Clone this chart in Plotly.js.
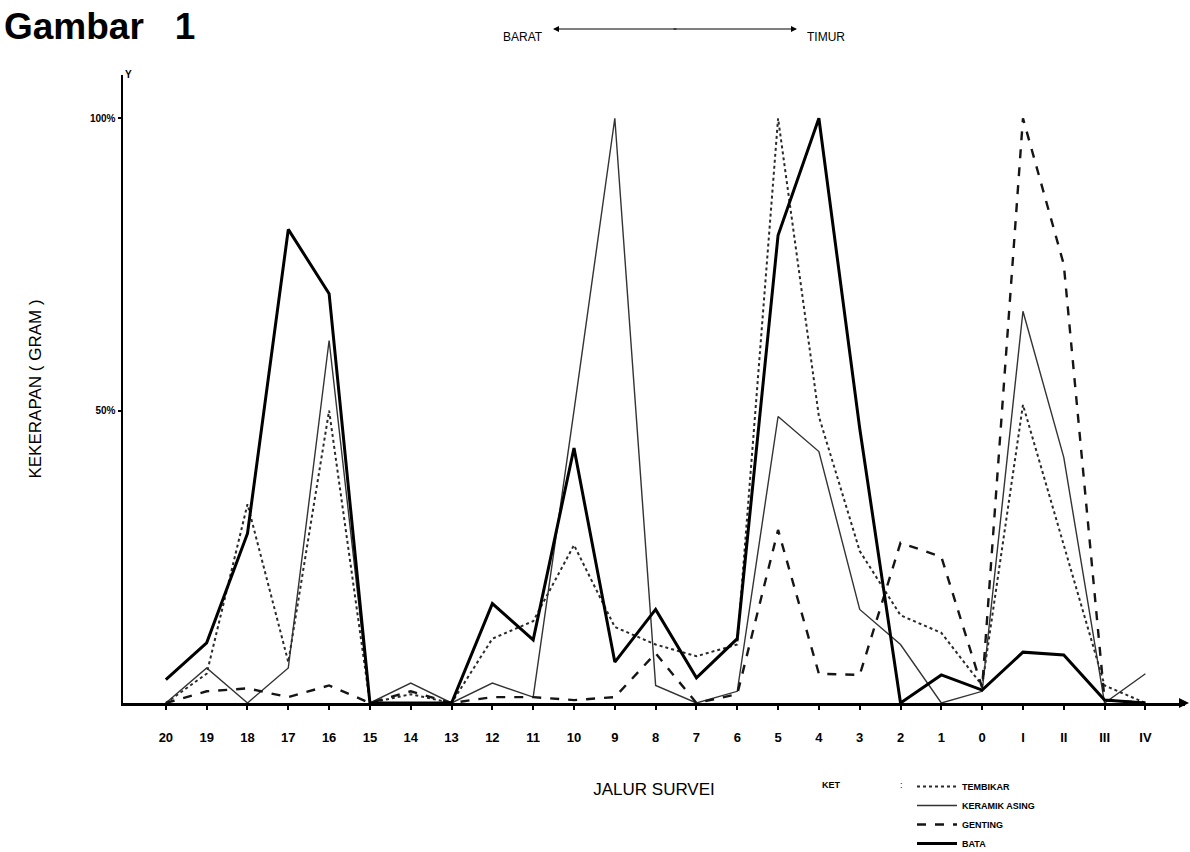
<!DOCTYPE html>
<html>
<head>
<meta charset="utf-8">
<script src="https://cdn.plot.ly/plotly-3.0.1.min.js"></script>
<style>
  html, body { margin: 0; padding: 0; background: #ffffff; }
  #chart { width: 1190px; height: 852px; }
</style>
</head>
<body>
<div id="chart"></div>
<script>
// ---- data (percent) ----
const categories = ['20','19','18','17','16','15','14','13','12','11','10','9','8','7','6','5','4','3','2','1','0','I','II','III','IV'];
const tembikar = [0, 5, 34, 7, 50, 0, 1.5, 0, 11, 14, 27, 13, 10, 8, 10, 100, 49, 26, 15, 12, 3, 51, 27, 3, 0];
const keramikAsing = [0, 6, 0, 6, 62, 0, 3.4, 0, 3.4, 1, 50, 100, 3, 0, 2, 49, 43, 16, 10, 0, 2, 67, 42, 0, 5];
const genting = [0, 2, 2.5, 1, 3, 0, 2, 0, 1, 1, 0.5, 1, 8.5, 0, 1.5, 29.6, 5, 4.8, 27.4, 25, 2.6, 100, 75, 0.5, 0];
const bata = [4, 10.3, 29, 81, 70, 0, 0, 0, 17, 10.8, 43.6, 7, 16, 4.3, 11, 80, 100, 47, 0, 4.8, 2.2, 8.7, 8.2, 0.5, 0];
const seriesNames = ['TEMBIKAR', 'KERAMIK ASING', 'GENTING', 'BATA'];
const yTickVals = [50, 100];
const yTickText = ['50%', '100%'];

// ---- layout geometry (pixels) ----
const L = 123, R = 1185, T = 75, B = 703;
const W = 1190, H = 852;
const fx = p => (p - L) / (R - L);
const fy = p => (B - p) / (B - T);
const FONT = 'Liberation Sans, Arial, sans-serif';

const traces = [
  { y: tembikar, name: seriesNames[0], line: { color: '#2a2a2a', width: 2, dash: 'dot' } },
  { y: keramikAsing, name: seriesNames[1], line: { color: '#333333', width: 1.4, dash: 'solid' } },
  { y: genting, name: seriesNames[2], line: { color: '#151515', width: 2.4, dash: 'dash' } },
  { y: bata, name: seriesNames[3], line: { color: '#000000', width: 3, dash: 'solid' } }
].map(t => Object.assign({ x: categories, type: 'scatter', mode: 'lines', cliponaxis: false, hoverinfo: 'skip' }, t));

const layout = {
  width: W, height: H,
  paper_bgcolor: '#ffffff', plot_bgcolor: '#ffffff',
  margin: { l: L, r: W - R, t: T, b: H - B, autoexpand: false },
  title: {
    text: 'Gambar   1', x: 4 / W, xanchor: 'left', y: 1 - 26 / H, yanchor: 'middle',
    font: { family: FONT, size: 37, weight: 'bold', color: '#000' }
  },
  showlegend: true,
  legend: {
    x: fx(912), y: fy(772), xanchor: 'left', yanchor: 'top',
    bgcolor: 'rgba(0,0,0,0)', borderwidth: 0,
    font: { family: FONT, size: 9, weight: 'bold', color: '#000' },
    itemwidth: 40, tracegroupgap: 0
  },
  xaxis: {
    type: 'category', range: [-1.05, 24.97], automargin: false,
    showline: true, linecolor: '#000', linewidth: 3,
    showgrid: false, zeroline: false,
    ticks: 'outside', ticklen: 4, tickwidth: 2, tickcolor: '#000',
    ticklabelstandoff: 16,
    tickfont: { family: FONT, size: 13, weight: 'bold', color: '#000' },
    title: { text: 'JALUR SURVEI', standoff: 40, font: { family: FONT, size: 17, color: '#000' } }
  },
  yaxis: {
    range: [0, 107.4], fixedrange: true, automargin: false,
    showline: true, linecolor: '#000', linewidth: 2.5,
    showgrid: false, zeroline: false,
    tickvals: yTickVals, ticktext: yTickText,
    ticks: 'outside', ticklen: 3, tickwidth: 2, tickcolor: '#000',
    tickfont: { family: FONT, size: 10, weight: 'bold', color: '#000' },
    title: { text: 'KEKERAPAN ( GRAM )', standoff: 44, font: { family: FONT, size: 17, color: '#000' } }
  },
  annotations: [
    { xref: 'paper', yref: 'paper', x: fx(523), y: fy(28), text: 'BARAT', showarrow: false,
      font: { family: FONT, size: 12, color: '#000' } },
    { xref: 'paper', yref: 'paper', x: fx(826), y: fy(28), text: 'TIMUR', showarrow: false,
      font: { family: FONT, size: 12, color: '#000' } },
    { xref: 'paper', yref: 'paper', x: fx(553), y: fy(29), ax: 125, ay: 0, text: '',
      showarrow: true, arrowhead: 2, arrowsize: 1, arrowwidth: 1.2, arrowcolor: '#000' },
    { xref: 'paper', yref: 'paper', x: fx(797), y: fy(29), ax: -125, ay: 0, text: '',
      showarrow: true, arrowhead: 2, arrowsize: 1, arrowwidth: 1.2, arrowcolor: '#000' },
    { xref: 'paper', yref: 'paper', x: fx(123), y: fy(67), text: 'Y', showarrow: false,
      font: { family: FONT, size: 10, weight: 'bold', color: '#000' } },
    { xref: 'paper', yref: 'paper', x: fx(1189), y: fy(703), ax: -8, ay: 0, text: '',
      showarrow: true, arrowhead: 2, arrowsize: 1, arrowwidth: 2, arrowcolor: '#000' },
    { xref: 'paper', yref: 'paper', x: fx(843), y: fy(792), text: 'KET', showarrow: false,
      font: { family: FONT, size: 9, weight: 'bold', color: '#000' } },
    { xref: 'paper', yref: 'paper', x: fx(905), y: fy(792), text: ':', showarrow: false,
      font: { family: FONT, size: 9, color: '#000' } }
  ]
};

Plotly.newPlot('chart', traces, layout, { staticPlot: true, displayModeBar: false });
</script>
</body>
</html>
